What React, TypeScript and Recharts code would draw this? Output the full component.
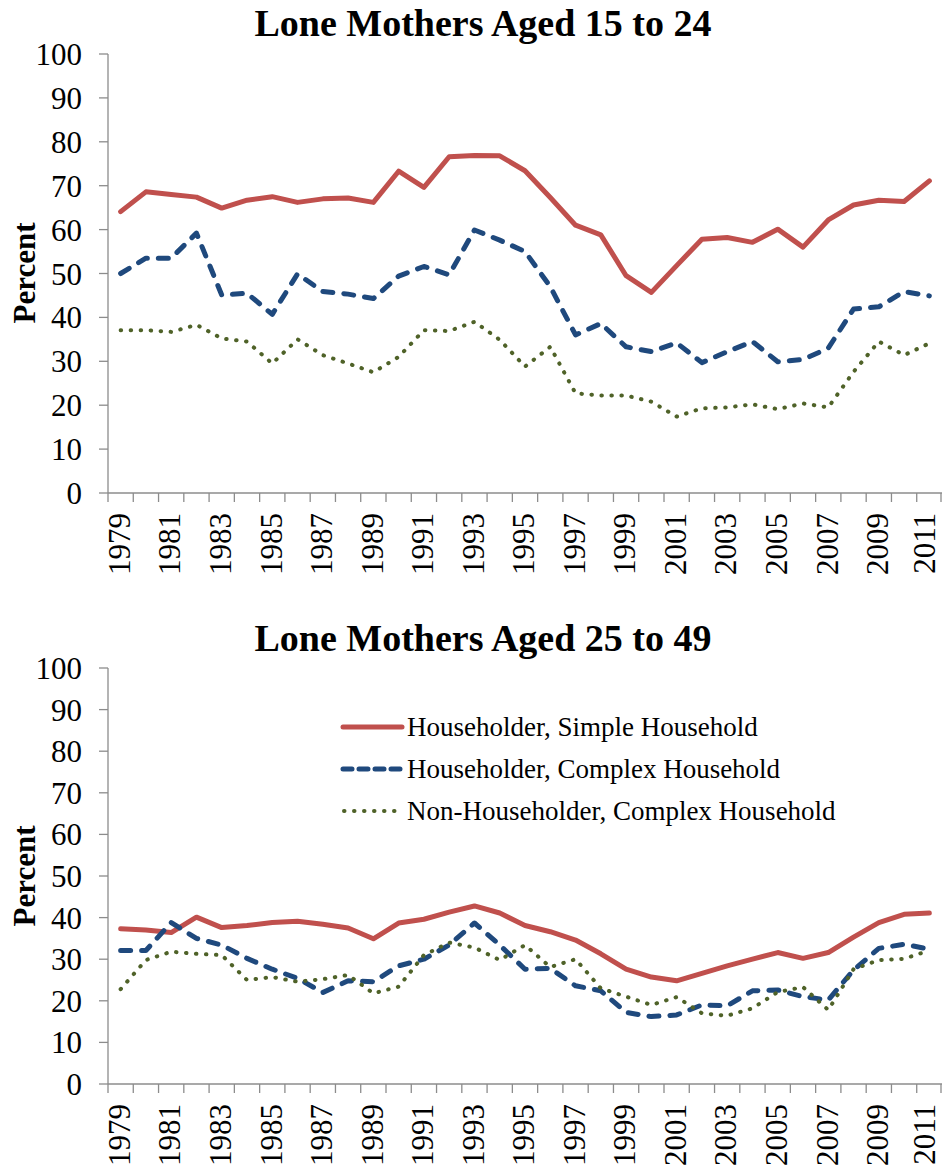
import { LineChart, Line, XAxis, YAxis, Legend } from 'recharts';

// one row per year, 1979-2011
const YEARS = [
  '1979', '1980', '1981', '1982', '1983', '1984', '1985', '1986', '1987', '1988', '1989',
  '1990', '1991', '1992', '1993', '1994', '1995', '1996', '1997', '1998', '1999', '2000',
  '2001', '2002', '2003', '2004', '2005', '2006', '2007', '2008', '2009', '2010', '2011',
];

// aged 15 to 24
const SIMPLE_15_24 = [64.1, 68.6, 68.0, 67.4, 64.9, 66.7, 67.5, 66.2, 67.0, 67.2, 66.2, 73.3, 69.6, 76.6, 76.9, 76.8, 73.4, 67.3, 61.0, 58.8, 49.5, 45.7, 51.8, 57.8, 58.2, 57.1, 60.1, 56.0, 62.2, 65.6, 66.7, 66.4, 71.1];
const COMPLEX_15_24 = [50.0, 53.5, 53.5, 59.2, 45.1, 45.5, 40.7, 49.9, 45.9, 45.3, 44.3, 49.4, 51.6, 49.7, 59.9, 57.6, 55.0, 47.0, 36.0, 38.6, 33.3, 32.2, 34.2, 29.7, 32.2, 34.5, 29.9, 30.4, 33.0, 41.9, 42.4, 45.9, 44.9];
const NONHH_15_24 = [37.1, 37.1, 36.7, 38.3, 35.2, 34.5, 29.5, 35.0, 31.4, 29.5, 27.5, 31.0, 37.1, 36.9, 39.0, 34.9, 28.8, 33.3, 22.7, 22.2, 22.2, 20.8, 17.4, 19.3, 19.5, 20.2, 19.1, 20.4, 19.5, 27.6, 34.5, 31.4, 34.1];

// aged 25 to 49
const SIMPLE_25_49 = [37.3, 37.0, 36.4, 40.1, 37.6, 38.1, 38.8, 39.1, 38.4, 37.5, 34.9, 38.7, 39.6, 41.3, 42.8, 41.1, 38.1, 36.6, 34.6, 31.3, 27.6, 25.7, 24.8, 26.6, 28.4, 30.0, 31.6, 30.2, 31.6, 35.3, 38.8, 40.8, 41.1];
const COMPLEX_25_49 = [32.1, 32.1, 38.8, 35.0, 33.4, 30.2, 27.6, 25.4, 22.0, 24.8, 24.6, 28.4, 30.0, 33.4, 38.7, 33.4, 27.6, 27.8, 23.6, 22.4, 17.2, 16.2, 16.6, 19.0, 18.8, 22.4, 22.6, 21.0, 20.2, 27.4, 32.6, 33.6, 32.4];
const NONHH_25_49 = [22.8, 29.8, 31.8, 31.3, 31.0, 25.0, 25.7, 24.6, 25.2, 26.2, 21.8, 23.4, 31.0, 34.0, 32.8, 29.8, 33.4, 28.1, 30.0, 23.0, 21.0, 19.0, 20.9, 17.0, 16.4, 18.2, 22.1, 23.3, 17.8, 27.6, 29.8, 30.1, 32.1];

const SERIES_NAMES = [
  'Householder, Simple Household',
  'Householder, Complex Household',
  'Non-Householder, Complex Household',
];
const Y_TICKS = [0, 10, 20, 30, 40, 50, 60, 70, 80, 90, 100];

const RED = '#C0504D';
const BLUE = '#1F497D';
const GREEN = '#4F6228';
const AXIS = '#8C8C8C';
const FONT = '"Liberation Serif", "Times New Roman", serif';

const W = 942;
const LEFT = 108;
const BAND = (W - LEFT) / YEARS.length;

const STYLES = [
  { key: 'simple', color: RED, width: 5, dash: undefined },
  { key: 'complex', color: BLUE, width: 5, dash: '10 11' },
  { key: 'nonhh', color: GREEN, width: 4, dash: '0.5 9.5' },
];

function toRows(a: number[], b: number[], c: number[]) {
  return YEARS.map((year, i) => ({ year, simple: a[i], complex: b[i], nonhh: c[i] }));
}

// Excel style: tick marks sit between categories, label every other year
function YearTick(props: any) {
  const { x, y, index, payload } = props;
  const left = x - BAND / 2;
  const isLast = index === YEARS.length - 1;
  // keep the last label inside the picture
  const lx = isLast ? x - 4 : x;
  return (
    <g>
      <line x1={left} x2={left} y1={y} y2={y + 9} stroke={AXIS} strokeWidth={1.3} />
      {isLast && (
        <line x1={x + BAND / 2 - 1} x2={x + BAND / 2 - 1} y1={y} y2={y + 9} stroke={AXIS} strokeWidth={1.3} />
      )}
      {index % 2 === 0 && (
        <text
          x={lx}
          y={y + 20}
          dy="0.3em"
          transform={`rotate(-90, ${lx}, ${y + 20})`}
          textAnchor="end"
          fontSize={31}
          fontFamily={FONT}
          fill="#000"
        >
          {payload.value}
        </text>
      )}
    </g>
  );
}

function LegendBox() {
  return (
    <svg width={600} height={130}>
      {STYLES.map((s, i) => {
        const cy = 27 + i * 42;
        return (
          <g key={s.key}>
            <line
              x1={i === 2 ? 4 : 3}
              x2={i === 2 ? 57 : 62}
              y1={cy}
              y2={cy}
              stroke={s.color}
              strokeWidth={s.width}
              strokeDasharray={i === 1 ? '9 7' : s.dash}
              strokeLinecap="round"
            />
            <text x={67} y={cy + 9} fontSize={27} fontFamily={FONT} fill="#000">
              {SERIES_NAMES[i]}
            </text>
          </g>
        );
      })}
    </svg>
  );
}

function Panel({ rows, height, top, plotH, legend }: { rows: any[]; height: number; top: number; plotH: number; legend?: boolean }) {
  return (
    <LineChart width={W} height={height} data={rows} margin={{ top, right: 0, bottom: 0, left: 0 }}>
      <XAxis
        dataKey="year"
        interval={0}
        tickLine={false}
        tickSize={0}
        tickMargin={0}
        tick={<YearTick />}
        height={height - top - plotH}
        axisLine={{ stroke: AXIS, strokeWidth: 1.3 }}
        padding={{ left: BAND / 2, right: BAND / 2 }}
      />
      <YAxis
        domain={[0, 100]}
        ticks={Y_TICKS}
        interval={0}
        width={LEFT}
        tickSize={9}
        tickMargin={17}
        axisLine={{ stroke: AXIS, strokeWidth: 1.3 }}
        tickLine={{ stroke: AXIS, strokeWidth: 1.3 }}
        tick={{ fill: '#000', fontSize: 31, fontFamily: FONT }}
      />
      {legend && (
        <Legend
          layout="vertical"
          align="center"
          verticalAlign="middle"
          content={() => <LegendBox />}
          wrapperStyle={{ left: 340, top: 100, width: 600, height: 130 }}
        />
      )}
      {STYLES.map((s, i) => (
        <Line
          key={s.key}
          type="linear"
          dataKey={s.key}
          name={SERIES_NAMES[i]}
          stroke={s.color}
          strokeWidth={s.width}
          strokeDasharray={s.dash}
          strokeLinecap="round"
          strokeLinejoin="round"
          dot={false}
          activeDot={false}
          isAnimationActive={false}
        />
      ))}
    </LineChart>
  );
}

export default function App() {
  return (
    <div style={{ position: 'absolute', left: 0, top: 0, width: W, height: 1169, background: '#fff' }}>
      <div style={{ position: 'absolute', left: 0, top: 0 }}>
        <Panel rows={toRows(SIMPLE_15_24, COMPLEX_15_24, NONHH_15_24)} height={600} top={54} plotH={439} />
      </div>
      <div style={{ position: 'absolute', left: 0, top: 600 }}>
        <Panel rows={toRows(SIMPLE_25_49, COMPLEX_25_49, NONHH_25_49)} height={569} top={68} plotH={416} legend />
      </div>
      <svg width={W} height={1169} style={{ position: 'absolute', left: 0, top: 0, pointerEvents: 'none' }}>
        <text x={483} y={36} textAnchor="middle" fontSize={38} fontWeight="bold" fontFamily={FONT} fill="#000">
          Lone Mothers Aged 15 to 24
        </text>
        <text x={483} y={651} textAnchor="middle" fontSize={38} fontWeight="bold" fontFamily={FONT} fill="#000">
          Lone Mothers Aged 25 to 49
        </text>
        <text transform="translate(35, 273) rotate(-90)" textAnchor="middle" fontSize={31} fontWeight="bold" fontFamily={FONT} fill="#000">
          Percent
        </text>
        <text transform="translate(35, 876) rotate(-90)" textAnchor="middle" fontSize={31} fontWeight="bold" fontFamily={FONT} fill="#000">
          Percent
        </text>
      </svg>
    </div>
  );
}
